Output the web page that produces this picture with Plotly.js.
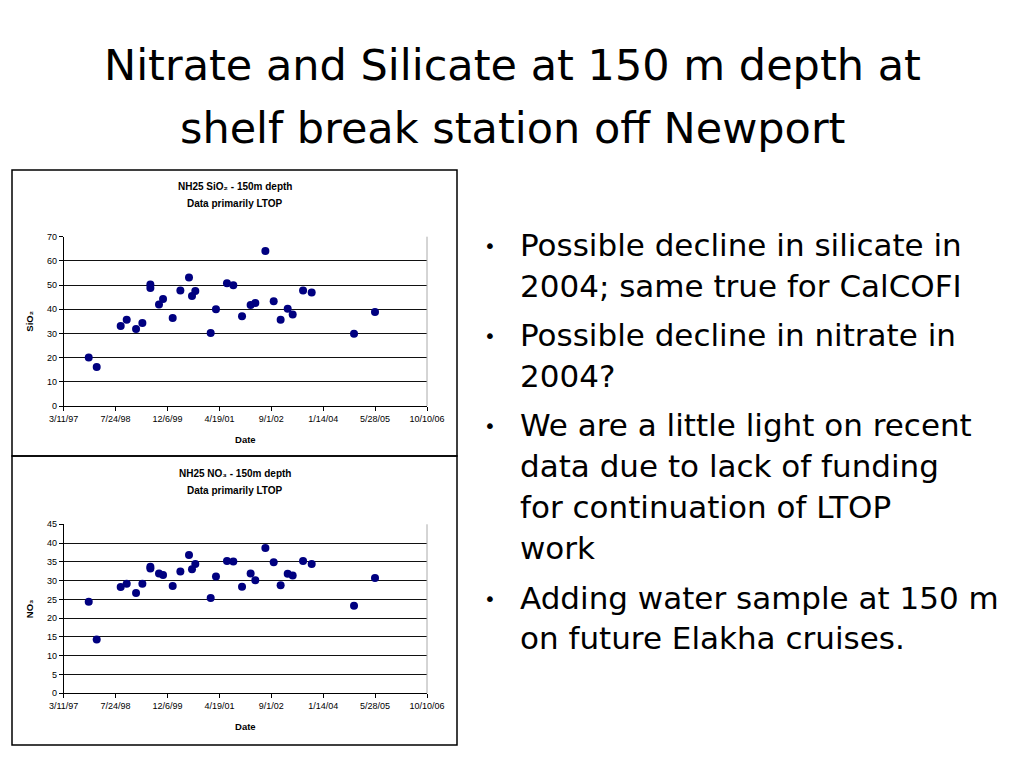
<!DOCTYPE html>
<html>
<head>
<meta charset="utf-8">
<script src="https://cdn.plot.ly/plotly-3.0.1.min.js"></script>
<style>
html,body{margin:0;padding:0;background:#fff;}
#chart{width:1024px;height:768px;}
</style>
</head>
<body>
<div id="chart"></div>
<script>
// Sampling dates (shared by both series)
const sampleDates = ['1997-11-07','1998-01-23','1998-09-11','1998-11-08','1999-02-06','1999-04-08','1999-06-24','1999-06-24','1999-09-15','1999-10-24','2000-01-25','2000-04-08','2000-06-30','2000-07-29','2000-08-30','2001-01-25','2001-03-17','2001-07-01','2001-08-31','2001-11-23','2002-02-14','2002-03-31','2002-07-06','2002-09-24','2002-11-30','2003-02-06','2003-03-26','2003-07-04','2003-09-25','2004-11-06','2005-05-27'];
// Silicate (SiO2) at 150 m
const sio2Values = [20.1,16.1,33.1,35.7,31.8,34.3,50.2,48.8,42.0,44.2,36.4,47.8,53.1,45.5,47.5,30.2,40.0,50.8,49.9,37.1,41.8,42.6,64.1,43.3,35.7,40.2,37.8,47.8,46.9,29.9,38.9];
// Nitrate (NO3) at 150 m
const no3Values = [24.4,14.3,28.3,29.2,26.7,29.2,33.7,33.2,31.9,31.5,28.6,32.4,36.8,33.0,34.4,25.4,31.1,35.2,35.1,28.4,31.9,30.1,38.7,34.9,28.8,31.8,31.4,35.2,34.4,23.3,30.7];
// x-axis ticks
const tickDates = ['1997-03-11','1998-07-24','1999-12-06','2001-04-19','2002-09-01','2004-01-14','2005-05-28','2006-10-10'];
const tickLabels = ['3/11/97','7/24/98','12/6/99','4/19/01','9/1/02','1/14/04','5/28/05','10/10/06'];
const xRange = ['1997-03-11','2006-10-10'];
// Slide text
const slideTitle = ['Nitrate and Silicate at 150 m depth at','shelf break station off Newport'];
const bullets = [
  ['Possible decline in silicate in','2004; same true for CalCOFI'],
  ['Possible decline in nitrate in','2004?'],
  ['We are a little light on recent','data due to lack of funding','for continuation of LTOP','work'],
  ['Adding water sample at 150 m','on future Elakha cruises.']
];

const W = 1024, H = 768;
const px = x => x / W;
const py = y => 1 - y / H;

const slideFont = '"DejaVu Sans", "Open Sans", sans-serif';
const chartFont = '"Liberation Sans", Arial, "DejaVu Sans", sans-serif';
const navy = '#000080';

const traces = [
  {x: sampleDates, y: sio2Values, xaxis:'x', yaxis:'y', type:'scatter', mode:'markers',
   marker:{color:navy, size:8}, showlegend:false, hoverinfo:'x+y'},
  {x: sampleDates, y: no3Values, xaxis:'x2', yaxis:'y2', type:'scatter', mode:'markers',
   marker:{color:navy, size:8}, showlegend:false, hoverinfo:'x+y'}
];

const cf = s => ({family:chartFont, size:s, color:'#000', weight:'bold'});

function xAxis(anchor){
  return {domain:[px(63.7), px(427)], anchor:anchor, type:'date', range:xRange,
    tickmode:'array', tickvals:tickDates, ticktext:tickLabels,
    ticks:'outside', ticklen:4, tickcolor:'#000', tickwidth:1,
    showline:true, linecolor:'#000', linewidth:1, showgrid:false, zeroline:false,
    title:{text:'Date', font:cf(9.5), standoff:13},
    tickfont:{family:chartFont, size:9, color:'#000'}, fixedrange:true, automargin:false};
}
function yAxis(anchor, top, bottom, maxV, step, label){
  return {domain:[py(bottom), py(top)], anchor:anchor, range:[0,maxV], tick0:0, dtick:step,
    ticks:'outside', ticklen:4, tickcolor:'#000', tickwidth:1,
    showline:true, linecolor:'#000', linewidth:1, showgrid:true, gridcolor:'#111', gridwidth:1,
    title:{text:label, font:cf(9.5), standoff:11},
    zeroline:false, tickfont:{family:chartFont, size:9, color:'#000'}, fixedrange:true, automargin:false};
}

const annotations = [];
function addText(text, x, y, font, opts){
  annotations.push(Object.assign({xref:'paper', yref:'paper', x:px(x), y:py(y), text:text, showarrow:false,
    xanchor:'center', yanchor:'middle', font:font}, opts||{}));
}
const sf = s => ({family:slideFont, size:s, color:'#000'});
// Slide title
addText(slideTitle[0], 512, 65, sf(43));
addText(slideTitle[1], 512, 128, sf(43));
// Bullets
const lineYs = [[245,286],[335,376],[425,466,507,548],[598,638]];
bullets.forEach((b, i) => {
  addText('•', 482, lineYs[i][0] + 1, sf(20), {xanchor:'left'});
  b.forEach((line, j) => addText(line, 518, lineYs[i][j], sf(31), {xanchor:'left'}));
});
// Chart titles
addText('NH25 SiO₂ - 150m depth', 235, 186, cf(10));
addText('Data primarily LTOP', 235, 203, cf(10));
addText('NH25 NO₃ - 150m depth', 235, 473, cf(10));
addText('Data primarily LTOP', 235, 490, cf(10));

const shapes = [
  {type:'rect', xref:'paper', yref:'paper', x0:px(12), x1:px(457), y0:py(456), y1:py(170), line:{color:'#000', width:1.5}},
  {type:'rect', xref:'paper', yref:'paper', x0:px(12), x1:px(457), y0:py(745), y1:py(456), line:{color:'#000', width:1.5}},
  {type:'line', xref:'paper', yref:'paper', x0:px(427), x1:px(427), y0:py(406), y1:py(236.7), line:{color:'#aaa', width:1}},
  {type:'line', xref:'paper', yref:'paper', x0:px(427), x1:px(427), y0:py(693.3), y1:py(524.3), line:{color:'#aaa', width:1}}
];

const layout = {
  width:W, height:H, margin:{l:0,r:0,t:0,b:0}, paper_bgcolor:'#fff', plot_bgcolor:'rgba(0,0,0,0)',
  showlegend:false,
  xaxis: xAxis('y'), yaxis: yAxis('x', 236.7, 406, 70, 10, 'SiO₂'),
  xaxis2: xAxis('y2'), yaxis2: yAxis('x2', 524.3, 693.3, 45, 5, 'NO₃'),
  annotations: annotations, shapes: shapes
};
Plotly.newPlot('chart', traces, layout, {staticPlot:true});
</script>
</body>
</html>
